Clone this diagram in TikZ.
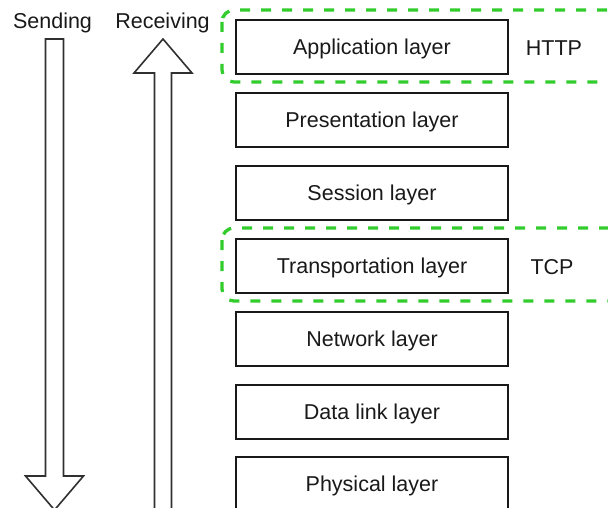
\documentclass[tikz,border=0pt]{standalone}
\usepackage{fontspec}
\setmainfont{Liberation Sans}
\definecolor{inkdark}{RGB}{25,25,25}
\definecolor{framegreen}{RGB}{50,205,45}
\begin{document}
\begin{tikzpicture}[x=1pt,y=-1pt,
  every node/.style={font=\fontsize{21.5}{25}\selectfont, text=inkdark,
    text height=15.4pt, text depth=0pt, inner sep=0pt},
  layerbox/.style={draw=inkdark, line width=1.6pt, minimum width=272pt,
    minimum height=53.5pt},
  groupframe/.style={draw=framegreen, line width=3.3pt, rounded corners=12pt,
    dash pattern=on 10pt off 11pt},
  bigarrow/.style={draw=inkdark!90, line width=1.6pt, fill=white, line join=miter}]
  \useasboundingbox (0,0) rectangle (608,508);
  \clip (0,0) rectangle (608,508);

  % protocol group frames (open to the right)
  \draw[groupframe] (222,10) rectangle (640,82);
  \draw[groupframe] (222,228) rectangle (640,301);

  % OSI layers
  \node[layerbox] (app)  at (372,47)  {Application layer};
  \node[layerbox] (pres) at (372,120) {Presentation layer};
  \node[layerbox] (sess) at (372,193) {Session layer};
  \node[layerbox] (trans) at (372,266) {Transportation layer};
  \node[layerbox] (net)  at (372,339) {Network layer};
  \node[layerbox] (link) at (372,412) {Data link layer};
  \node[layerbox] (phys) at (372,484) {Physical layer};

  % protocol labels
  \node (http) at (554,48.3) {HTTP};
  \node (tcp)  at (552,266.8) {TCP};

  % direction captions
  \node (send) at (52.5,20.8) {Sending};
  \node (recv) at (162.5,20.8) {Receiving};

  % sending: hollow arrow pointing down
  \draw[bigarrow] (45.5,39) -- (63.5,39) -- (63.5,476) -- (83.5,476)
    -- (54.5,510) -- (25.5,476) -- (45.5,476) -- cycle;
  % receiving: hollow arrow pointing up
  \draw[bigarrow] (154.5,530) -- (154.5,73) -- (134,73) -- (163,39)
    -- (192,73) -- (171.5,73) -- (171.5,530);
\end{tikzpicture}
\end{document}
